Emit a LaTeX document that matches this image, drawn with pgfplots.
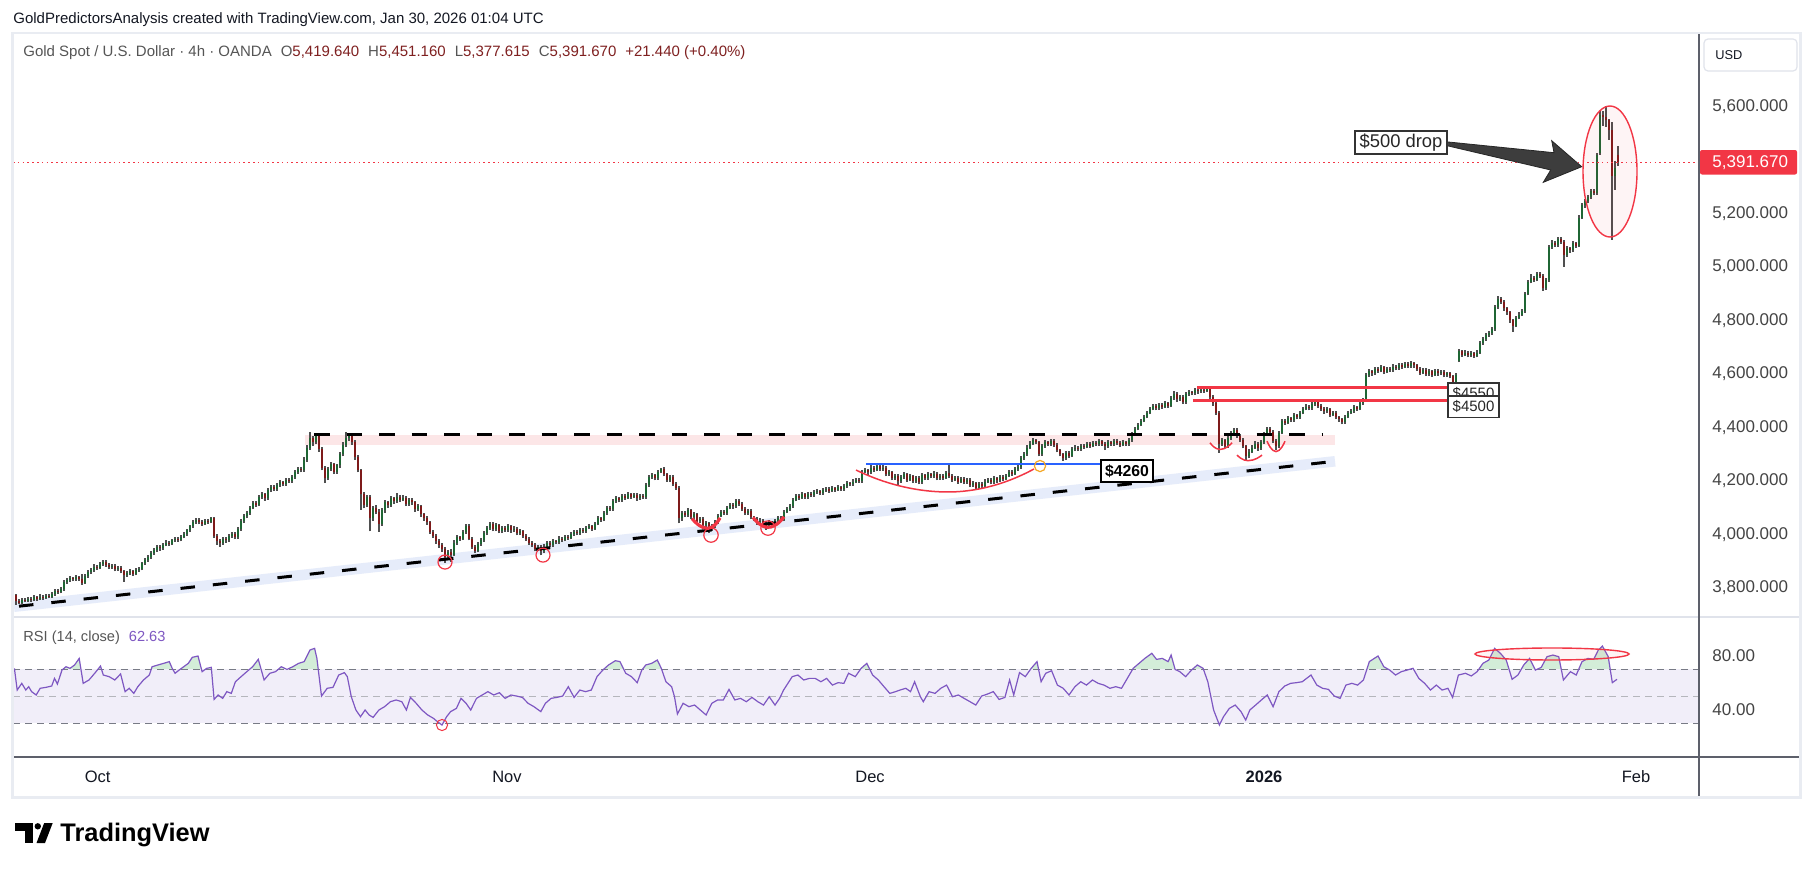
\documentclass[border=0pt]{standalone}
\usepackage{fontspec}
\setmainfont{Liberation Sans}
\usepackage{pgfplots}
\usepackage{pgfplotstable}
\pgfplotsset{compat=1.18}

\definecolor{framegray}{HTML}{E9ECF2}
\definecolor{sepgray}{HTML}{E0E3EB}
\definecolor{axisdark}{HTML}{5D606B}
\definecolor{txt}{HTML}{131722}
\definecolor{scalegray}{HTML}{444444}
\definecolor{symgray}{HTML}{555555}
\definecolor{valred}{HTML}{7F2020}
\definecolor{upgreen}{HTML}{1F6634}
\definecolor{downred}{HTML}{7E1A1A}
\definecolor{wick}{HTML}{4F4F4F}
\definecolor{tvred}{HTML}{F23645}
\definecolor{rsipurple}{HTML}{7E57C2}
\definecolor{rsiband}{HTML}{F1EEF9}
\definecolor{rsidash}{HTML}{787B86}
\definecolor{obgreen}{HTML}{D3EDD8}
\definecolor{resband}{HTML}{FCE6E7}
\definecolor{supband}{HTML}{E6ECFA}
\definecolor{lineblue}{HTML}{2962FF}
\definecolor{arcorange}{HTML}{F5A623}
\definecolor{arrowgray}{HTML}{3D3D3D}

% 4h candles, XAUUSD (open, high, low, close)
\pgfplotstableread[row sep=\\]{
O H L C\\
3772 3778 3738 3750\\ 3750 3758 3740 3745\\ 3745 3762 3741 3755\\ 3755 3764 3746 3752\\ 3752 3768 3748 3760\\ 3760 3767 3749 3756\\
3756 3772 3751 3765\\ 3765 3771 3752 3760\\ 3760 3776 3755 3768\\ 3768 3774 3757 3764\\ 3764 3779 3759 3770\\ 3770 3778 3761 3768\\
3768 3785 3763 3776\\ 3776 3798 3771 3790\\ 3790 3797 3779 3786\\ 3786 3803 3780 3795\\ 3795 3830 3790 3822\\ 3822 3839 3815 3830\\
3830 3845 3824 3836\\ 3836 3843 3825 3832\\ 3832 3849 3827 3840\\ 3840 3846 3828 3835\\ 3835 3852 3812 3820\\ 3820 3852 3815 3845\\
3845 3866 3838 3860\\ 3860 3875 3852 3868\\ 3868 3889 3861 3880\\ 3880 3887 3868 3876\\ 3876 3898 3870 3890\\ 3890 3906 3884 3898\\
3898 3903 3879 3885\\ 3885 3893 3871 3878\\ 3878 3890 3872 3882\\ 3882 3888 3862 3870\\ 3870 3883 3864 3875\\ 3875 3881 3855 3862\\
3862 3869 3824 3850\\ 3850 3863 3842 3855\\ 3855 3870 3848 3862\\ 3862 3868 3845 3852\\ 3852 3874 3847 3866\\ 3866 3880 3860 3872\\
3872 3899 3866 3892\\ 3892 3912 3886 3905\\ 3905 3922 3898 3915\\ 3915 3937 3909 3930\\ 3930 3950 3924 3942\\ 3942 3962 3936 3955\\
3955 3960 3940 3948\\ 3948 3969 3943 3962\\ 3962 3978 3956 3970\\ 3970 3976 3958 3966\\ 3966 3985 3960 3978\\ 3978 3992 3972 3985\\
3985 3990 3972 3980\\ 3980 3999 3974 3992\\ 3992 4009 3986 4002\\ 4002 4022 3996 4015\\ 4015 4037 4009 4030\\ 4030 4055 4024 4048\\
4048 4063 4041 4055\\ 4055 4062 4038 4045\\ 4045 4053 4032 4040\\ 4040 4059 4035 4052\\ 4052 4058 4040 4048\\ 4048 4066 4042 4060\\
4060 4064 3988 3995\\ 3995 4002 3962 3975\\ 3975 3982 3955 3968\\ 3968 3992 3962 3985\\ 3985 3991 3970 3978\\ 3978 4001 3972 3995\\
3995 4010 3988 4002\\ 4002 4008 3982 3990\\ 3990 4028 3985 4020\\ 4020 4058 4014 4050\\ 4050 4075 4043 4068\\ 4068 4088 4060 4080\\
4080 4108 4073 4100\\ 4100 4126 4094 4118\\ 4118 4124 4104 4112\\ 4112 4147 4106 4140\\ 4140 4158 4133 4150\\ 4150 4155 4126 4135\\
4135 4172 4129 4165\\ 4165 4185 4158 4178\\ 4178 4184 4162 4170\\ 4170 4192 4164 4185\\ 4185 4202 4178 4195\\ 4195 4201 4180 4188\\
4188 4212 4182 4205\\ 4205 4211 4192 4200\\ 4200 4222 4194 4215\\ 4215 4240 4209 4232\\ 4232 4252 4226 4245\\ 4245 4251 4232 4240\\
4240 4290 4234 4280\\ 4280 4335 4272 4325\\ 4325 4382 4316 4360\\ 4360 4370 4330 4345\\ 4345 4380 4338 4370\\ 4370 4376 4310 4320\\
4320 4326 4240 4250\\ 4250 4256 4192 4210\\ 4210 4252 4203 4245\\ 4245 4270 4238 4262\\ 4262 4268 4226 4235\\ 4235 4265 4228 4258\\
4258 4310 4250 4300\\ 4300 4345 4292 4335\\ 4335 4382 4326 4360\\ 4360 4378 4350 4372\\ 4372 4376 4335 4345\\ 4345 4352 4280 4290\\
4290 4298 4232 4240\\ 4240 4246 4092 4150\\ 4150 4158 4098 4110\\ 4110 4148 4102 4140\\ 4140 4146 4012 4060\\ 4060 4108 4050 4100\\
4100 4112 4075 4085\\ 4085 4094 4011 4040\\ 4040 4098 4032 4090\\ 4090 4128 4082 4120\\ 4120 4127 4100 4110\\ 4110 4143 4104 4135\\
4135 4142 4115 4125\\ 4125 4155 4118 4140\\ 4140 4147 4122 4130\\ 4130 4146 4124 4138\\ 4138 4144 4106 4115\\ 4115 4138 4108 4130\\
4130 4136 4112 4120\\ 4120 4126 4086 4095\\ 4095 4113 4088 4105\\ 4105 4111 4066 4075\\ 4075 4082 4052 4060\\ 4060 4068 4036 4045\\
4045 4052 4002 4010\\ 4010 4018 3988 3995\\ 3995 4003 3966 3975\\ 3975 3982 3950 3960\\ 3960 3968 3935 3945\\ 3945 3952 3895 3915\\
3915 3942 3906 3935\\ 3935 3944 3898 3925\\ 3925 3978 3918 3970\\ 3970 3998 3962 3990\\ 3990 3996 3976 3985\\ 3985 4018 3979 4010\\
4010 4040 4003 4032\\ 4032 4038 3978 3985\\ 3985 3992 3946 3955\\ 3955 3962 3930 3940\\ 3940 3973 3933 3965\\ 3965 3988 3958 3980\\
3980 4013 3973 4005\\ 4005 4033 3998 4025\\ 4025 4048 4018 4040\\ 4040 4046 4012 4020\\ 4020 4043 4013 4035\\ 4035 4041 4004 4012\\
4012 4032 4005 4025\\ 4025 4031 4010 4018\\ 4018 4038 4011 4030\\ 4030 4036 4007 4015\\ 4015 4030 4008 4022\\ 4022 4028 3997 4005\\
4005 4020 3998 4012\\ 4012 4018 3987 3995\\ 3995 4002 3977 3985\\ 3985 3992 3962 3970\\ 3970 3977 3954 3962\\ 3962 3969 3937 3945\\
3945 3960 3938 3952\\ 3952 3959 3922 3938\\ 3938 3963 3931 3955\\ 3955 3976 3948 3968\\ 3968 3974 3952 3960\\ 3960 3983 3953 3975\\
3975 3981 3964 3972\\ 3972 3993 3966 3985\\ 3985 3991 3972 3980\\ 3980 4000 3974 3992\\ 3992 3998 3980 3988\\ 3988 4010 3982 4002\\
4002 4018 3996 4010\\ 4010 4016 3997 4005\\ 4005 4026 3999 4018\\ 4018 4024 4004 4012\\ 4012 4033 4006 4025\\ 4025 4038 4019 4030\\
4030 4036 4014 4022\\ 4022 4048 4016 4040\\ 4040 4068 4034 4060\\ 4060 4066 4047 4055\\ 4055 4088 4049 4080\\ 4080 4108 4074 4100\\
4100 4106 4087 4095\\ 4095 4133 4089 4125\\ 4125 4143 4119 4135\\ 4135 4141 4120 4128\\ 4128 4153 4122 4145\\ 4145 4151 4130 4138\\
4138 4158 4132 4150\\ 4150 4156 4134 4142\\ 4142 4156 4136 4148\\ 4148 4154 4127 4135\\ 4135 4153 4129 4145\\ 4145 4151 4132 4140\\
4140 4193 4134 4185\\ 4185 4223 4179 4215\\ 4215 4230 4208 4222\\ 4222 4228 4202 4210\\ 4210 4243 4204 4235\\ 4235 4250 4229 4245\\
4245 4251 4217 4225\\ 4225 4231 4197 4205\\ 4205 4223 4198 4215\\ 4215 4221 4182 4190\\ 4190 4197 4167 4175\\ 4175 4181 4042 4060\\
4060 4088 4052 4080\\ 4080 4087 4064 4072\\ 4072 4098 4066 4090\\ 4090 4096 4057 4065\\ 4065 4083 4058 4075\\ 4075 4081 4042 4050\\
4050 4066 4043 4058\\ 4058 4064 4027 4035\\ 4035 4050 4028 4042\\ 4042 4048 4005 4020\\ 4020 4038 4013 4030\\ 4030 4053 4024 4045\\
4045 4078 4039 4070\\ 4070 4093 4064 4085\\ 4085 4091 4072 4080\\ 4080 4108 4074 4100\\ 4100 4118 4094 4110\\ 4110 4116 4097 4105\\
4105 4133 4099 4125\\ 4125 4131 4107 4115\\ 4115 4121 4087 4095\\ 4095 4101 4072 4080\\ 4080 4096 4074 4088\\ 4088 4094 4057 4065\\
4065 4071 4050 4058\\ 4058 4064 4037 4045\\ 4045 4060 4039 4052\\ 4052 4058 4032 4040\\ 4040 4046 4018 4030\\ 4030 4053 4024 4045\\
4045 4051 4030 4038\\ 4038 4058 4032 4050\\ 4050 4070 4044 4062\\ 4062 4068 4047 4055\\ 4055 4093 4049 4085\\ 4085 4103 4079 4095\\
4095 4113 4089 4105\\ 4105 4138 4099 4130\\ 4130 4153 4124 4145\\ 4145 4151 4130 4138\\ 4138 4158 4132 4150\\ 4150 4156 4132 4140\\
4140 4160 4134 4152\\ 4152 4158 4140 4148\\ 4148 4166 4142 4158\\ 4158 4170 4152 4162\\ 4162 4168 4147 4155\\ 4155 4173 4149 4165\\
4165 4178 4159 4170\\ 4170 4176 4156 4164\\ 4164 4180 4158 4172\\ 4172 4178 4160 4168\\ 4168 4184 4162 4176\\ 4176 4182 4162 4170\\
4170 4188 4164 4180\\ 4180 4200 4174 4192\\ 4192 4198 4180 4188\\ 4188 4206 4182 4198\\ 4198 4213 4192 4205\\ 4205 4211 4192 4200\\
4200 4243 4194 4235\\ 4235 4248 4229 4240\\ 4240 4246 4224 4232\\ 4232 4258 4226 4250\\ 4250 4256 4234 4242\\ 4242 4266 4236 4255\\
4255 4261 4237 4245\\ 4245 4258 4239 4250\\ 4250 4256 4217 4225\\ 4225 4240 4219 4232\\ 4232 4238 4202 4210\\ 4210 4228 4204 4220\\
4220 4226 4185 4200\\ 4200 4223 4194 4215\\ 4215 4233 4209 4225\\ 4225 4231 4197 4205\\ 4205 4226 4199 4218\\ 4218 4224 4192 4200\\
4200 4220 4194 4212\\ 4212 4218 4187 4195\\ 4195 4230 4189 4222\\ 4222 4228 4202 4210\\ 4210 4233 4204 4225\\ 4225 4231 4210 4218\\
4218 4236 4212 4228\\ 4228 4234 4202 4210\\ 4210 4228 4204 4220\\ 4220 4226 4204 4212\\ 4212 4238 4206 4230\\ 4230 4262 4212 4220\\
4220 4226 4197 4205\\ 4205 4220 4199 4212\\ 4212 4218 4190 4198\\ 4198 4216 4192 4208\\ 4208 4214 4187 4195\\ 4195 4213 4189 4205\\
4205 4211 4177 4185\\ 4185 4200 4179 4192\\ 4192 4198 4168 4175\\ 4175 4198 4169 4190\\ 4190 4196 4174 4182\\ 4182 4206 4176 4198\\
4198 4213 4192 4205\\ 4205 4211 4187 4195\\ 4195 4218 4189 4210\\ 4210 4216 4194 4202\\ 4202 4223 4196 4215\\ 4215 4221 4200 4208\\
4208 4228 4202 4220\\ 4220 4243 4214 4235\\ 4235 4241 4220 4228\\ 4228 4253 4222 4245\\ 4245 4260 4239 4252\\ 4252 4293 4246 4285\\
4285 4308 4279 4300\\ 4300 4333 4294 4325\\ 4325 4348 4319 4340\\ 4340 4360 4334 4352\\ 4352 4358 4337 4345\\ 4345 4351 4292 4300\\
4300 4338 4294 4330\\ 4330 4353 4324 4345\\ 4345 4351 4330 4338\\ 4338 4358 4332 4350\\ 4350 4356 4327 4335\\ 4335 4341 4307 4315\\
4315 4321 4292 4300\\ 4300 4306 4275 4285\\ 4285 4313 4279 4305\\ 4305 4311 4287 4295\\ 4295 4326 4289 4318\\ 4318 4333 4312 4325\\
4325 4331 4312 4320\\ 4320 4340 4314 4332\\ 4332 4338 4320 4328\\ 4328 4346 4322 4338\\ 4338 4344 4324 4332\\ 4332 4350 4326 4342\\
4342 4348 4330 4338\\ 4338 4356 4332 4348\\ 4348 4354 4332 4340\\ 4340 4346 4315 4330\\ 4330 4353 4324 4345\\ 4345 4351 4330 4338\\
4338 4358 4332 4350\\ 4350 4356 4334 4342\\ 4342 4348 4327 4335\\ 4335 4353 4329 4345\\ 4345 4351 4330 4338\\ 4338 4360 4332 4352\\
4352 4383 4346 4375\\ 4375 4403 4369 4395\\ 4395 4418 4389 4410\\ 4410 4433 4404 4425\\ 4425 4448 4419 4440\\ 4440 4463 4434 4455\\
4455 4478 4449 4470\\ 4470 4488 4464 4480\\ 4480 4486 4464 4472\\ 4472 4493 4466 4485\\ 4485 4491 4470 4478\\ 4478 4498 4472 4490\\
4490 4496 4474 4482\\ 4482 4518 4476 4510\\ 4510 4535 4504 4525\\ 4525 4531 4497 4505\\ 4505 4523 4499 4515\\ 4515 4521 4487 4495\\
4495 4533 4489 4525\\ 4525 4540 4519 4532\\ 4532 4538 4520 4528\\ 4528 4546 4522 4540\\ 4540 4546 4527 4535\\ 4535 4549 4529 4542\\
4542 4548 4530 4538\\ 4538 4552 4532 4545\\ 4545 4551 4507 4515\\ 4515 4521 4482 4490\\ 4490 4496 4447 4455\\ 4455 4461 4305 4340\\
4340 4360 4332 4352\\ 4352 4358 4322 4330\\ 4330 4368 4324 4360\\ 4360 4388 4354 4380\\ 4380 4400 4374 4392\\ 4392 4398 4362 4370\\
4370 4376 4347 4355\\ 4355 4361 4322 4330\\ 4330 4336 4280 4295\\ 4295 4318 4285 4310\\ 4310 4333 4304 4325\\ 4325 4348 4319 4340\\
4340 4346 4314 4322\\ 4322 4353 4316 4345\\ 4345 4383 4339 4375\\ 4375 4403 4369 4395\\ 4395 4401 4377 4385\\ 4385 4391 4342 4350\\
4350 4356 4315 4330\\ 4330 4388 4324 4380\\ 4380 4433 4374 4425\\ 4425 4431 4410 4418\\ 4418 4443 4412 4435\\ 4435 4441 4420 4428\\
4428 4453 4422 4445\\ 4445 4451 4430 4438\\ 4438 4463 4432 4455\\ 4455 4478 4449 4470\\ 4470 4486 4464 4478\\ 4478 4484 4464 4472\\
4472 4496 4466 4488\\ 4488 4505 4482 4495\\ 4495 4501 4472 4480\\ 4480 4486 4462 4470\\ 4470 4476 4452 4460\\ 4460 4476 4454 4468\\
4468 4474 4440 4448\\ 4448 4463 4442 4455\\ 4455 4461 4430 4438\\ 4438 4444 4422 4430\\ 4430 4436 4412 4420\\ 4420 4448 4414 4440\\
4440 4463 4434 4455\\ 4455 4470 4449 4462\\ 4462 4483 4456 4475\\ 4475 4481 4462 4470\\ 4470 4498 4464 4490\\ 4490 4512 4484 4505\\
4505 4603 4499 4595\\ 4595 4618 4589 4610\\ 4610 4616 4594 4602\\ 4602 4628 4596 4620\\ 4620 4626 4604 4612\\ 4612 4632 4606 4625\\
4625 4631 4600 4608\\ 4608 4628 4602 4620\\ 4620 4626 4607 4615\\ 4615 4636 4609 4628\\ 4628 4634 4614 4622\\ 4622 4642 4616 4635\\
4635 4641 4620 4628\\ 4628 4645 4622 4638\\ 4638 4644 4622 4630\\ 4630 4647 4624 4640\\ 4640 4646 4624 4632\\ 4632 4638 4612 4620\\
4620 4626 4597 4605\\ 4605 4622 4599 4615\\ 4615 4621 4592 4600\\ 4600 4617 4594 4610\\ 4610 4616 4590 4598\\ 4598 4619 4592 4612\\
4612 4618 4594 4602\\ 4602 4615 4596 4608\\ 4608 4614 4587 4595\\ 4595 4609 4589 4602\\ 4602 4608 4584 4592\\ 4592 4598 4560 4570\\
4570 4602 4564 4595\\ 4650 4692 4644 4685\\ 4685 4691 4664 4672\\ 4672 4688 4666 4680\\ 4680 4686 4662 4670\\ 4670 4686 4664 4678\\
4678 4684 4660 4668\\ 4668 4688 4662 4680\\ 4680 4723 4674 4715\\ 4715 4738 4709 4730\\ 4730 4753 4724 4745\\ 4745 4760 4739 4752\\
4752 4776 4746 4768\\ 4768 4858 4762 4850\\ 4850 4892 4844 4882\\ 4882 4888 4862 4870\\ 4870 4876 4837 4845\\ 4845 4851 4822 4830\\
4830 4836 4792 4800\\ 4800 4806 4758 4780\\ 4780 4818 4774 4810\\ 4810 4830 4804 4822\\ 4822 4843 4816 4835\\ 4835 4908 4829 4900\\
4900 4953 4894 4945\\ 4945 4972 4939 4960\\ 4960 4966 4944 4952\\ 4952 4983 4946 4975\\ 4975 4981 4960 4968\\ 4968 4974 4912 4920\\
4920 4958 4914 4950\\ 4950 5083 4944 5075\\ 5075 5100 5069 5090\\ 5090 5096 5074 5082\\ 5082 5112 5076 5105\\ 5105 5111 5087 5095\\
5095 5101 5000 5045\\ 5045 5078 5039 5070\\ 5070 5076 5054 5062\\ 5062 5096 5056 5088\\ 5088 5094 5072 5080\\ 5080 5193 5074 5185\\
5185 5238 5179 5230\\ 5230 5253 5222 5245\\ 5245 5270 5238 5262\\ 5262 5292 5256 5285\\ 5285 5291 5268 5278\\ 5278 5428 5270 5418\\
5425 5585 5420 5570\\ 5570 5585 5528 5560\\ 5560 5602 5525 5548\\ 5548 5555 5475 5512\\ 5512 5543 5101 5340\\ 5340 5395 5288 5370.23\\
5419.64 5451.16 5377.615 5391.67\\
}\candles

% RSI(14, close): chart position, value
\pgfplotstableread[row sep=\\]{
x R\\
14.4 70.8\\ 17.2 54.6\\ 21.8 59.6\\ 25.8 54.6\\ 28.7 57.1\\ 31.6 53.4\\ 36.2 50.9\\ 40.2 55.9\\ 45.9 56.6\\ 51.7 57.6\\
54.5 63.3\\ 57.4 59.1\\ 62.0 69.5\\ 66.0 72.0\\ 70.0 70.8\\ 74.6 73.3\\ 79.2 78.2\\ 83.2 59.6\\ 89.0 62.1\\ 94.7 67.1\\
100.5 72.5\\ 103.3 65.8\\ 109.1 64.6\\ 114.8 62.1\\ 120.6 66.6\\ 125.1 53.4\\ 129.2 55.9\\ 133.8 52.1\\ 137.8 57.1\\ 143.5 62.1\\
149.3 65.8\\ 152.1 72.0\\ 157.9 73.3\\ 163.6 74.5\\ 169.3 75.8\\ 172.2 70.8\\ 175.1 67.1\\ 179.1 69.5\\ 183.7 72.0\\ 188.3 74.5\\
192.3 79.0\\ 198.0 80.0\\ 202.1 68.3\\ 206.7 70.8\\ 211.3 71.5\\ 214.1 47.6\\ 218.1 50.9\\ 222.7 48.4\\ 226.8 53.4\\ 231.3 52.1\\
235.4 60.8\\ 241.1 64.6\\ 246.8 68.3\\ 252.6 72.0\\ 258.3 77.5\\ 264.1 62.1\\ 269.8 67.1\\ 275.5 68.3\\ 281.3 72.0\\ 287.0 70.0\\
292.8 72.0\\ 298.5 74.5\\ 304.2 75.8\\ 310.0 84.5\\ 314.6 85.7\\ 316.9 78.2\\ 321.5 50.1\\ 327.2 55.9\\ 333.0 56.6\\ 338.7 65.8\\
344.4 67.6\\ 347.3 64.6\\ 351.3 49.6\\ 355.9 39.7\\ 360.5 34.7\\ 365.1 39.7\\ 369.1 36.0\\ 373.1 34.2\\ 378.9 39.7\\ 384.6 42.2\\
390.4 45.9\\ 396.1 47.2\\ 401.8 45.9\\ 406.4 39.7\\ 410.4 49.1\\ 416.2 44.7\\ 421.9 39.7\\ 427.7 36.0\\ 433.4 33.5\\ 437.4 31.0\\
442.0 28.5\\ 446.6 34.7\\ 450.6 38.5\\ 456.4 40.9\\ 461.0 48.4\\ 466.1 44.7\\ 470.7 39.7\\ 476.5 48.4\\ 482.2 50.9\\ 487.9 53.4\\
493.7 50.9\\ 499.4 52.6\\ 505.2 48.4\\ 510.9 50.9\\ 516.6 50.1\\ 522.4 49.1\\ 528.1 44.7\\ 533.9 42.2\\ 540.8 38.5\\ 545.4 44.7\\
551.1 48.4\\ 556.8 49.1\\ 562.6 50.1\\ 568.3 57.1\\ 574.1 49.1\\ 579.8 54.6\\ 585.5 53.4\\ 591.3 54.6\\ 597.0 64.6\\ 602.8 69.5\\
608.5 73.3\\ 615.4 76.5\\ 620.0 75.8\\ 625.7 67.1\\ 631.5 64.6\\ 637.2 60.1\\ 641.8 69.5\\ 645.8 73.3\\ 651.6 74.5\\ 657.3 77.0\\
661.3 70.8\\ 665.9 60.8\\ 671.6 57.1\\ 674.5 49.6\\ 677.4 36.7\\ 683.1 44.7\\ 688.9 42.2\\ 694.6 43.4\\ 700.3 39.7\\ 706.1 36.0\\
711.8 44.7\\ 717.6 47.2\\ 723.3 47.2\\ 729.0 55.1\\ 734.8 47.2\\ 740.5 48.4\\ 746.3 45.9\\ 752.0 49.1\\ 757.8 45.9\\ 763.5 43.4\\
769.2 49.6\\ 775.0 43.4\\ 779.6 48.4\\ 783.6 54.6\\ 792.2 64.6\\ 797.9 65.8\\ 803.7 62.1\\ 809.4 63.3\\ 815.2 63.3\\ 820.9 60.8\\
826.6 63.3\\ 832.4 58.3\\ 838.1 60.1\\ 843.9 59.6\\ 848.5 67.1\\ 855.3 64.6\\ 861.1 70.8\\ 866.8 74.5\\ 872.6 65.8\\ 878.3 62.1\\
884.0 57.1\\ 889.8 52.1\\ 895.5 53.4\\ 900.0 54.6\\ 905.8 55.9\\ 910.5 53.4\\ 914.6 60.8\\ 920.4 49.6\\ 923.3 45.9\\ 929.1 53.4\\
935.0 52.1\\ 940.8 55.9\\ 946.6 58.3\\ 952.5 49.6\\ 958.3 50.9\\ 964.1 48.4\\ 970.0 45.9\\ 975.8 43.4\\ 981.6 50.1\\ 987.4 51.6\\
993.3 53.4\\ 999.1 47.6\\ 1004.9 49.1\\ 1009.6 62.1\\ 1013.7 50.9\\ 1019.5 67.6\\ 1025.3 64.6\\ 1031.2 70.8\\ 1037.0 75.8\\ 1041.1 60.8\\
1045.7 67.1\\ 1051.6 69.0\\ 1057.4 58.3\\ 1063.2 55.9\\ 1069.0 50.9\\ 1074.9 57.1\\ 1080.7 60.8\\ 1086.5 58.3\\ 1092.4 62.1\\ 1098.2 59.6\\
1104.0 58.3\\ 1109.9 55.9\\ 1115.7 57.1\\ 1121.5 55.9\\ 1127.3 63.3\\ 1133.2 70.8\\ 1139.0 74.5\\ 1144.8 78.2\\ 1151.8 82.0\\ 1156.5 77.5\\
1162.3 78.2\\ 1168.1 75.8\\ 1171.1 80.7\\ 1175.1 70.0\\ 1179.8 68.3\\ 1185.6 64.6\\ 1191.5 69.5\\ 1197.3 73.3\\ 1203.1 70.8\\ 1207.8 60.8\\
1213.6 39.7\\ 1219.4 28.5\\ 1223.5 34.7\\ 1229.3 40.9\\ 1235.2 43.4\\ 1241.0 38.5\\ 1245.7 32.2\\ 1249.8 39.7\\ 1255.6 43.4\\ 1261.4 47.2\\
1267.2 50.9\\ 1273.1 42.2\\ 1278.9 53.4\\ 1284.7 57.6\\ 1290.6 59.6\\ 1296.4 60.1\\ 1302.2 60.8\\ 1311.0 65.8\\ 1316.8 58.3\\ 1322.6 55.9\\
1328.4 55.1\\ 1334.3 50.1\\ 1340.1 48.4\\ 1345.9 58.3\\ 1351.8 59.6\\ 1357.6 58.3\\ 1363.4 62.1\\ 1369.3 75.8\\ 1378.0 80.0\\ 1383.8 72.0\\
1389.7 69.5\\ 1395.5 65.8\\ 1401.3 68.3\\ 1407.1 69.5\\ 1413.0 70.8\\ 1418.8 63.3\\ 1424.6 59.6\\ 1430.5 54.6\\ 1436.3 58.3\\ 1442.1 54.6\\
1447.9 55.9\\ 1452.6 49.1\\ 1458.4 65.8\\ 1465.4 67.1\\ 1471.3 65.1\\ 1477.1 68.3\\ 1482.9 74.5\\ 1488.8 77.0\\ 1494.6 85.7\\ 1500.4 82.0\\
1506.2 77.0\\ 1512.1 62.6\\ 1517.9 65.8\\ 1523.7 73.3\\ 1529.6 78.2\\ 1535.4 69.5\\ 1541.2 71.5\\ 1547.0 79.5\\ 1552.9 80.7\\ 1558.7 79.5\\
1563.4 62.1\\ 1570.4 68.3\\ 1576.2 65.8\\ 1582.0 75.8\\ 1587.8 78.2\\ 1593.7 77.5\\ 1598.3 84.5\\ 1602.4 87.4\\ 1608.2 79.5\\ 1612.3 60.1\\
1617.0 62.63\\
}\rsidata

\pgfplotsset{
  tvpane/.style={
    scale only axis, width=843pt,
    xmin=13, xmax=1699,
    axis line style={draw=none}, tick style={draw=none}, major tick length=0pt,
    yticklabel pos=right,
    yticklabel style={anchor=west, inner sep=0pt, xshift=6.5pt,
      font=\fontsize{8.5}{10}\selectfont, text=scalegray},
  },
  % candle strokes are drawn as one-sided error bars with no line and no marker
  candlestroke/.style 2 args={draw=none, mark=none,
    error bars/.cd, y dir=plus, y explicit, error mark=none,
    error bar style={draw=#1, line width=#2, solid}},
}

\begin{document}
\begin{tikzpicture}
\path[use as bounding box, fill=white] (0pt,0pt) rectangle (907pt,-436pt);

% ---------- price pane ----------
\begin{axis}[tvpane,
  at={(6.5pt,-308.5pt)}, anchor=south west, height=291.5pt,
  ymin=3691.6, ymax=5871.0,
  xtick=\empty,
  ytick={3800,4000,4200,4400,4600,4800,5000,5200,5600},
  yticklabels={{3,800.000},{4,000.000},{4,200.000},{4,400.000},{4,600.000},{4,800.000},{5,000.000},{5,200.000},{5,600.000}},
]
% resistance zone and rising support channel
\fill[resband] (axis cs:305,4335) rectangle (axis cs:1335,4372);
\addplot[supband, line width=5.25pt] coordinates {(14,3730.0) (1335,4273.7)};

% candles: wicks, then up and down bodies
\addplot[candlestroke={wick}{0.55pt}]
  table[x expr=16+3*\coordindex, y=L, y error expr=\thisrow{H}-\thisrow{L}] {\candles};
\addplot[candlestroke={upgreen}{1pt}]
  table[x expr=16+3*\coordindex, y=O, y error expr={max(\thisrow{C}-\thisrow{O},0)}] {\candles};
\addplot[candlestroke={downred}{1pt}]
  table[x expr=16+3*\coordindex, y=C, y error expr={max(\thisrow{O}-\thisrow{C},0)}] {\candles};

% last price
\addplot[tvred, line width=0.5pt, dash pattern=on 0.8pt off 1.6pt] coordinates {(13,5391.67) (1699,5391.67)};

% trend lines
\addplot[black, line width=1.5pt, dash pattern=on 7.75pt off 8.5pt] coordinates {(314,4372) (1322,4372)};
\addplot[black, line width=1.5pt, dash pattern=on 7.25pt off 9pt] coordinates {(19,3732.0) (1333,4272.9)};
\addplot[lineblue, line width=1pt] coordinates {(866,4262) (1101,4262)};
\addplot[tvred, line width=1.5pt] coordinates {(1197,4550) (1448,4550)};
\addplot[tvred, line width=1.5pt] coordinates {(1193,4500) (1448,4500)};

% rounding bottoms
\draw[tvred, line width=0.75pt] (axis cs:856,4241) parabola bend (axis cs:948,4159) (axis cs:1034,4245);
\draw[tvred, line width=1.6pt] (axis cs:692,4060) parabola bend (axis cs:708,4023) (axis cs:720,4062);
\draw[tvred, line width=1.6pt] (axis cs:753,4064) parabola bend (axis cs:768,4027) (axis cs:784,4066);
\draw[tvred, line width=0.75pt] (axis cs:1210,4343) parabola bend (axis cs:1220,4318) (axis cs:1232,4343);
\draw[tvred, line width=0.75pt] (axis cs:1237,4297) parabola bend (axis cs:1248,4276) (axis cs:1262,4297);
\draw[tvred, line width=0.75pt] (axis cs:1267,4349) parabola bend (axis cs:1276,4310) (axis cs:1285,4349);

% touches of the support line
\draw[tvred, line width=0.6pt] (axis cs:445,3897) circle[radius=3.5pt];
\draw[tvred, line width=0.6pt] (axis cs:543,3923) circle[radius=3.5pt];
\draw[tvred, line width=0.6pt] (axis cs:711,3998) circle[radius=3.6pt];
\draw[tvred, line width=0.6pt] (axis cs:768,4024) circle[radius=3.6pt];
\draw[arcorange, line width=0.6pt] (axis cs:1040,4256) circle[radius=2.8pt];

% the reversal from the high
\draw[tvred, line width=0.7pt, fill=tvred, fill opacity=0.05] (axis cs:1610,5357) ellipse[x radius=13.5pt, y radius=32.75pt];
\filldraw[fill=arrowgray, draw=black!85, line width=0.4pt]
  (axis cs:1448.3,5467.3) -- (axis cs:1554,5427.3) -- (axis cs:1551.7,5472.1) -- (axis cs:1581.7,5374.9)
  -- (axis cs:1543.3,5316.6) -- (axis cs:1550.7,5362.6) -- (axis cs:1448.3,5452.3) -- cycle;

% level labels
\node[draw=black!80, line width=0.6pt, fill=white, inner sep=0pt, minimum width=46pt, minimum height=11.5pt,
  font=\fontsize{9.2}{11}\selectfont, text=black!85] at (axis cs:1401,5465.4) {\$500 drop};
\node[draw=black, line width=0.65pt, fill=white, inner sep=0pt, minimum width=26pt, minimum height=11pt,
  font=\bfseries\fontsize{7.9}{9}\selectfont, text=black] at (axis cs:1127,4237.4) {\$4260};
\draw[black!80, line width=0.6pt, fill=white] (axis cs:1448,4566.4) rectangle (axis cs:1499,4510.3);
\node[inner sep=0pt, font=\fontsize{7.5}{9}\selectfont, text=black!85] at (axis cs:1473.5,4527) {\$4550};
\node[draw=black!80, line width=0.6pt, fill=white, inner sep=0pt, minimum width=25.5pt, minimum height=10.6pt,
  font=\fontsize{7.5}{9}\selectfont, text=black!85] at (axis cs:1473.5,4477.8) {\$4500};
\end{axis}

% ---------- RSI pane ----------
\begin{axis}[tvpane,
  at={(6.5pt,-378.5pt)}, anchor=south west, height=70pt,
  ymin=4.63, ymax=109.1,
  ytick={40,80}, yticklabels={40.00,80.00},
  xtick={97.6,507,870,1264,1636},
  xticklabels={Oct,Nov,Dec,\textbf{2026},Feb},
  xticklabel style={anchor=center, yshift=-10pt, inner sep=0pt,
    font=\fontsize{8.25}{10}\selectfont, text=txt},
]
% overbought fill: area under the RSI, then masked below 70
\addplot[fill=obgreen, draw=none] table[x=x, y=R] {\rsidata} \closedcycle;
\fill[rsiband] (axis cs:13,30) rectangle (axis cs:1699,70);
\fill[white] (axis cs:13,0) rectangle (axis cs:1699,30);
\addplot[rsidash, line width=0.5pt, dash pattern=on 3.5pt off 2.5pt] coordinates {(13,70) (1699,70)};
\addplot[rsidash!55, line width=0.5pt, dash pattern=on 3.5pt off 2.5pt] coordinates {(13,50) (1699,50)};
\addplot[rsidash, line width=0.5pt, dash pattern=on 3.5pt off 2.5pt] coordinates {(13,30) (1699,30)};
\addplot[rsipurple, line width=0.6pt] table[x=x, y=R] {\rsidata};
\draw[tvred, line width=0.5pt] (axis cs:442,28.5) circle[radius=2.8pt];
\draw[tvred, line width=0.7pt, fill=tvred, fill opacity=0.05] (axis cs:1552,81.5) ellipse[x radius=38.5pt, y radius=3pt];
\end{axis}

% ---------- frame, scales and captions ----------
\begin{scope}[x=0.5pt, y=-0.5pt]
\draw[sepgray, line width=1pt] (13,617) -- (1800,617);
\draw[axisdark, line width=0.7pt] (13,757) -- (1800,757);
\draw[axisdark, line width=0.7pt] (1699,33) -- (1699,797);
\draw[framegray, line width=1.2pt] (12.5,33) rectangle (1800.5,797.5);

\draw[sepgray, line width=0.6pt, rounded corners=2pt] (1704,39) rectangle (1797,71);
\node[anchor=west, inner sep=0pt, font=\fontsize{6.4}{8}\selectfont, text=txt] at (1715,55) {USD};

\fill[tvred, rounded corners=1pt] (1700,150) rectangle (1797,174.5);
\node[anchor=west, inner sep=0pt, text=white, font=\fontsize{8.5}{10}\selectfont] at (1712,162.2) {5,391.670};

\node[anchor=west, inner sep=0pt, font=\fontsize{7.5}{9}\selectfont, text=txt] at (13,20)
  {GoldPredictorsAnalysis created with TradingView.com, Jan 30, 2026 01:04 UTC};
\node[anchor=west, inner sep=0pt, font=\fontsize{7.5}{9}\selectfont] at (23,53)
  {\color{symgray}Gold Spot / U.S. Dollar · 4h · OANDA\hspace{4.5pt}O\color{valred}5,419.640\hspace{4.5pt}\color{symgray}H\color{valred}5,451.160\hspace{4.5pt}\color{symgray}L\color{valred}5,377.615\hspace{4.5pt}\color{symgray}C\color{valred}5,391.670\hspace{4.5pt}+21.440 (+0.40\%)};
\node[anchor=west, inner sep=0pt, font=\fontsize{7.3}{9}\selectfont] at (23,638)
  {\color{symgray}RSI (14, close)\hspace{4.5pt}\color{rsipurple}62.63};

% TradingView mark
\fill[black] (15,823) rectangle (33,830.5);
\fill[black] (25,823) rectangle (33,843);
\fill[black] (37.8,826.3) circle[radius=1.6pt];
\fill[black] (36.5,843) -- (45,843) -- (52.7,823) -- (44.2,823) -- cycle;
\node[anchor=west, inner sep=0pt, font=\bfseries\fontsize{12.7}{14}\selectfont, text=black] at (60,834.5) {TradingView};
\end{scope}
\end{tikzpicture}
\end{document}
